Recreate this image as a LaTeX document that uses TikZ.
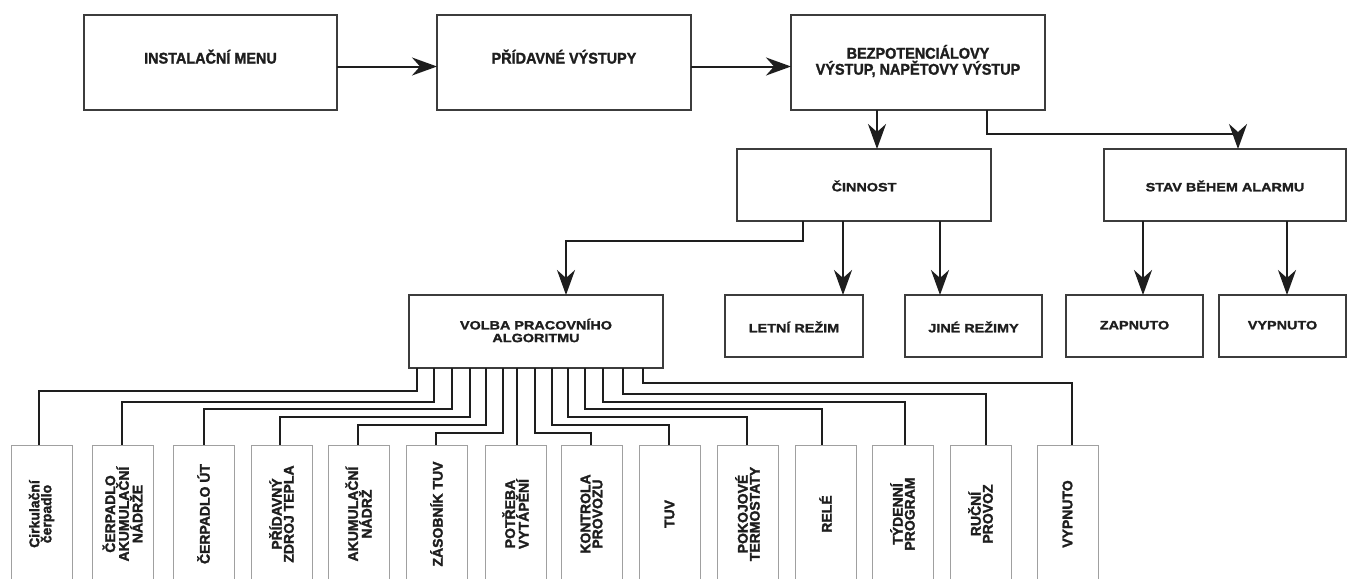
\documentclass[tikz,border=0pt]{standalone}
\usepackage{fontspec}
\setmainfont{Liberation Sans}
\newfontfamily\topf[FakeStretch=0.93,FakeBold=1.6]{Liberation Sans}
\newfontfamily\midf[FakeStretch=1.2,FakeBold=1.6]{Liberation Sans}
\newfontfamily\botf[FakeBold=1.8]{Liberation Sans}
\usetikzlibrary{arrows.meta,calc}
\definecolor{ink}{HTML}{1E1E1E}
\definecolor{edge}{HTML}{3C3C3C}
\definecolor{pale}{HTML}{A0A0A0}
\begin{document}
\begin{tikzpicture}[x=1pt,y=-1pt,
  box/.style={draw=edge,line width=1.1pt,inner sep=0pt,outer sep=0pt,anchor=north west,fill=white},
  lbox/.style={draw=pale,line width=1pt,inner sep=0pt,outer sep=0pt,anchor=north west,minimum width=61pt,minimum height=150pt,fill=white},
  toptxt/.style={font=\topf\bfseries\fontsize{15.5}{16}\selectfont,text=ink,align=center,inner sep=0pt},
  midtxt/.style={font=\midf\bfseries\fontsize{12}{12.7}\selectfont,text=ink,align=center,inner sep=0pt},
  bottxt/.style={font=\botf\bfseries\fontsize{14}{12}\selectfont,text=ink,align=center,inner sep=0pt,rotate=90},
  onetop/.style={text height=11.1pt,text depth=0pt},
  onemid/.style={text height=8.6pt,text depth=0pt},
  conn/.style={draw=ink,line width=2pt,line join=miter},
  arr/.style={conn,-{Stealth[length=25pt,width=18pt,inset=8pt]}},
]
\useasboundingbox (0,0) rectangle (1348,578);
\fill[white] (0,0) rectangle (1348,578);
\clip (0,0) rectangle (1348,578);

% ---- top row
\node[box,minimum width=253pt,minimum height=95pt] (inst) at (84,15) {};
\node[box,minimum width=254pt,minimum height=95pt] (prid) at (437,15) {};
\node[box,minimum width=254pt,minimum height=95pt] (bez) at (791,15) {};
\node[toptxt,onetop] (tinst) at (inst.center |- 0,58) {INSTALAČNÍ MENU};
\node[toptxt,onetop] (tprid) at (prid.center |- 0,58) {PŘÍDAVNÉ VÝSTUPY};
\node[toptxt] (tbez) at (bez.center |- 0,61) {BEZPOTENCIÁLOVY\\VÝSTUP, NAPĚTOVY VÝSTUP};

% ---- second row
\node[box,minimum width=254pt,minimum height=72pt] (cin) at (737,149) {};
\node[box,minimum width=242pt,minimum height=72pt] (stav) at (1104,149) {};
\node[midtxt,onemid] (tcin) at (cin.center |- 0,187) {ČINNOST};
\node[midtxt,onemid] (tstav) at (stav.center |- 0,187) {STAV BĚHEM ALARMU};

% ---- third row
\node[box,minimum width=254pt,minimum height=73pt] (volba) at (409,295) {};
\node[box,minimum width=138pt,minimum height=62pt] (letni) at (725,295) {};
\node[box,minimum width=137pt,minimum height=62pt] (jine) at (905,295) {};
\node[box,minimum width=137pt,minimum height=62pt] (zap) at (1066,295) {};
\node[box,minimum width=127pt,minimum height=62pt] (vyp) at (1219,295) {};
\node[midtxt] (tvolba) at (volba.center |- 0,330.5) {VOLBA PRACOVNÍHO\\ALGORITMU};
\node[midtxt,onemid] (tletni) at (letni.center |- 0,328) {LETNÍ REŽIM};
\node[midtxt,onemid] (tjine) at (jine.center |- 0,328) {JINÉ REŽIMY};
\node[midtxt,onemid] (tzap) at (zap.center |- 0,325) {ZAPNUTO};
\node[midtxt,onemid] (tvyp) at (vyp.center |- 0,325) {VYPNUTO};

% ---- top connectors
\draw[arr] ($(inst.east)+(0,4)$) -- ($(prid.west)+(0,4)$);
\draw[arr] ($(prid.east)+(0,4)$) -- ($(bez.west)+(0,4)$);
\coordinate (cinin) at (877,149);
\coordinate (stavin) at (1238,149);
\coordinate (bezr) at (987,110);
\draw[arr] (cinin |- bez.south) -- (cinin);
\draw[arr] (bezr) -- ++(0,24) -| (stavin);

\coordinate (cinl) at (803,221);
\coordinate (volin) at (566,295);
\draw[arr] (cinl) -- ++(0,20) -| (volin);
\coordinate (letin) at (843,295);
\coordinate (jinin) at (940,295);
\draw[arr] (letin |- cin.south) -- (letin);
\draw[arr] (jinin |- cin.south) -- (jinin);
\coordinate (zapin) at (1143,295);
\coordinate (vypin) at (1287,295);
\draw[arr] (zapin |- stav.south) -- (zapin);
\draw[arr] (vypin |- stav.south) -- (vypin);

% ---- bottom boxes
\node[lbox] (b1) at (11,445) {};
\node[lbox] (b2) at (92,445) {};
\node[lbox] (b3) at (173,445) {};
\node[lbox] (b4) at (251,445) {};
\node[lbox] (b5) at (328,445) {};
\node[lbox] (b6) at (406,445) {};
\node[lbox] (b7) at (485,445) {};
\node[lbox] (b8) at (561,445) {};
\node[lbox] (b9) at (639,445) {};
\node[lbox] (b10) at (717,445) {};
\node[lbox] (b11) at (795,445) {};
\node[lbox] (b12) at (872,445) {};
\node[lbox] (b13) at (950,445) {};
\node[lbox] (b14) at (1037,445) {};

\node[bottxt] (t1) at (b1.north |- 0,514) {Cirkulační\\čerpadlo};
\node[bottxt] (t2) at (b2.north |- 0,514) {ČERPADLO\\AKUMULAČNÍ\\NÁDRŽE};
\node[bottxt] (t3) at (b3.north |- 0,514) {ČERPADLO ÚT};
\node[bottxt] (t4) at (b4.north |- 0,514) {PŘÍDAVNÝ\\ZDROJ TEPLA};
\node[bottxt] (t5) at (b5.north |- 0,514) {AKUMULAČNÍ\\NÁDRŽ};
\node[bottxt] (t6) at (b6.north |- 0,514) {ZÁSOBNÍK TUV};
\node[bottxt] (t7) at (b7.north |- 0,514) {POTŘEBA\\VYTÁPĚNÍ};
\node[bottxt] (t8) at (b8.north |- 0,514) {KONTROLA\\PROVOZU};
\node[bottxt] (t9) at (b9.north |- 0,514) {TUV};
\node[bottxt] (t10) at (b10.north |- 0,514) {POKOJOVÉ\\TERMOSTATY};
\node[bottxt] (t11) at (b11.north |- 0,514) {RELÉ};
\node[bottxt] (t12) at (b12.north |- 0,514) {TÝDENNÍ\\PROGRAM};
\node[bottxt] (t13) at (b13.north |- 0,514) {RUČNÍ\\PROVOZ};
\node[bottxt] (t14) at (b14.north |- 0,514) {VYPNUTO};

% ---- bottom connectors
\foreach \i/\vx/\lev/\dx in {1/417/23/39, 2/434/34/122, 3/452/41/204, 4/470/49/280,
  5/486/57/358, 6/503/65/436, 8/535/65/591, 9/552/57/669, 10/568/49/747,
  11/585/41/822, 12/603/34/905, 13/623/26/986, 14/643/15/1072}{
  \coordinate (v\i) at (\vx,368);
  \coordinate (d\i) at (\dx,445);
  \draw[conn] (v\i) -- ++(0,\lev) -| (d\i);
}
\coordinate (v7) at (517,368);
\coordinate (d7) at (517,445);
\draw[conn] (v7) -- (d7);
\end{tikzpicture}
\end{document}
